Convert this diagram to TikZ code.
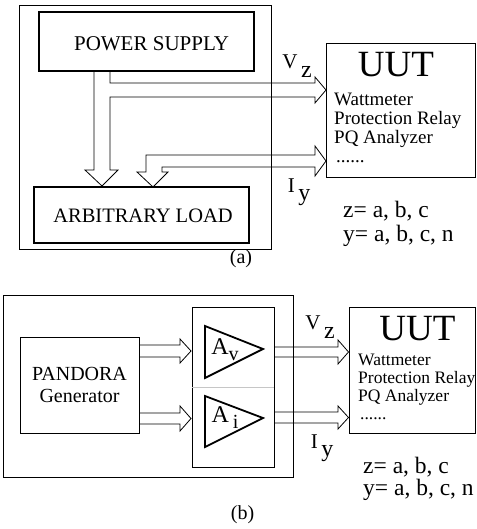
\documentclass[tikz,border=0pt]{standalone}
\usepackage{fontspec}
\setmainfont{Liberation Serif}
\usetikzlibrary{positioning,calc}

\begin{document}
\begin{tikzpicture}[
    x=1pt, y=-1pt,
    box/.style={draw, line width=0.8pt, inner sep=0pt},
    thickbox/.style={draw, line width=1.8pt, inner sep=0pt},
    hollow/.style={draw, line width=0.8pt, line join=miter},
    amp/.style={draw, line width=1.8pt, line join=miter},
    txt/.style={inner sep=0pt, font=\fontsize{21}{24}\selectfont},
    big/.style={inner sep=0pt, font=\fontsize{37}{40}\selectfont},
    itema/.style={inner sep=0pt, anchor=base west, font=\fontsize{19}{19}\selectfont},
    itemb/.style={inner sep=0pt, anchor=base west, font=\fontsize{17.5}{18}\selectfont},
    eqn/.style={inner sep=0pt, anchor=base west, font=\fontsize{23.5}{24}\selectfont}
]
\useasboundingbox (0,0) rectangle (476,529);

% (a) power supply and arbitrary load
\node[box, minimum width=252pt, minimum height=244pt] (framea) at (145,127) {};
\node[thickbox, minimum width=215pt, minimum height=59pt] (supply) at (146.5,41.5) {};
\node[txt] (supplytxt) at ($(supply.center)+(5,2.2)$) {POWER SUPPLY};
\node[thickbox, minimum width=215pt, minimum height=56pt] (load) at (141.5,215) {};
\node[txt, font=\fontsize{20.5}{24}\selectfont] (loadtxt) at ($(load.center)+(1.5,0.5)$) {ARBITRARY LOAD};
\node[box, minimum width=149pt, minimum height=134pt] (uuta) at (400.5,110) {};
\node[big] (uutlbla) at (396,65) {UUT};
\node[itema] (watta) at (334,105.7) {Wattmeter};
\node[itema] (relaya) at (334,124.7) {Protection Relay};
\node[itema] (pqa) at (334,143.7) {PQ Analyzer};
\node[itema] (dotsa) at (336,162.7) {......};

\draw[hollow] (94,71) -- (94,170) -- (85,170) -- (102,186) -- (118,170) -- (110,170)
    -- (110,97) -- (315,97) -- (315,103) -- (326,90) -- (315,77) -- (315,83) -- (110,83) -- (110,71);
\draw[hollow] (326,161) -- (315,146) -- (315,155) -- (146,155) -- (146,172) -- (137,172)
    -- (153,187) -- (168,172) -- (162,172) -- (162,167) -- (315,167) -- (315,176) -- cycle;

\node[txt] (vza) at (297,66) {V\,\raisebox{-9pt}{\fontsize{24}{24}\selectfont z}};
\node[txt] (iya) at (299,192) {I\,\raisebox{-8pt}{\fontsize{24}{24}\selectfont y}};
\node[eqn] (za) at (343,218) {z= a, b, c};
\node[eqn] (ya) at (343,241) {y= a, b, c, n};
\node[txt, font=\fontsize{20}{24}\selectfont] (capa) at (241,259) {(a)};

% (b) PANDORA generator and amplifiers
\node[box, minimum width=290pt, minimum height=182pt] (frameb) at (148.5,386) {};
\node[box, minimum width=119pt, minimum height=96pt, align=center,
      font=\fontsize{20}{22}\selectfont] (gen) at (79.5,385) {PANDORA\\Generator};
\node[box, minimum width=82pt, minimum height=160pt] (ampbox) at (233,387) {};
\draw[gray!45, line width=0.6pt] (ampbox.west) -- (ampbox.east);
\draw[amp] (205,326) -- (263,349) -- (205,378) -- cycle;
\draw[amp] (205,396) -- (263,418) -- (205,447) -- cycle;
\node[txt, font=\fontsize{24}{24}\selectfont] (av) at (225,350) {A\raisebox{-6pt}{\fontsize{20}{20}\selectfont v}};
\node[txt, font=\fontsize{24}{24}\selectfont] (ai) at (225,418) {A\,\raisebox{-6pt}{\fontsize{20}{20}\selectfont i}};
\node[box, minimum width=126.5pt, minimum height=126pt] (uutb) at (412.25,370) {};
\node[big] (uutlblb) at (417.5,328.5) {UUT};
\node[itemb] (wattb) at (358,365) {Wattmeter};
\node[itemb] (relayb) at (358,383.3) {Protection Relay};
\node[itemb] (pqb) at (358,401.6) {PQ Analyzer};
\node[itemb] (dotsb) at (360,419.9) {......};

\draw[hollow] (139,345) -- (180,345) -- (180,339) -- (191,351) -- (180,363) -- (180,357) -- (139,357);
\draw[hollow] (139,413) -- (180,413) -- (180,406) -- (191,418.5) -- (180,431) -- (180,424) -- (139,424);
\draw[hollow] (274,347) -- (338,347) -- (338,340) -- (348.5,352) -- (338,364) -- (338,357) -- (274,357);
\draw[hollow] (274,412) -- (338,412) -- (338,406) -- (348.5,417.5) -- (338,429) -- (338,423) -- (274,423);

\node[txt] (vzb) at (320,327) {V\,\raisebox{-9pt}{\fontsize{24}{24}\selectfont z}};
\node[txt] (iyb) at (322,448) {I\,\raisebox{-8pt}{\fontsize{24}{24}\selectfont y}};
\node[eqn] (zb) at (363,473) {z= a, b, c};
\node[eqn] (yb) at (363,495) {y= a, b, c, n};
\node[txt, font=\fontsize{20}{24}\selectfont] (capb) at (242.5,515) {(b)};
\end{tikzpicture}
\end{document}
